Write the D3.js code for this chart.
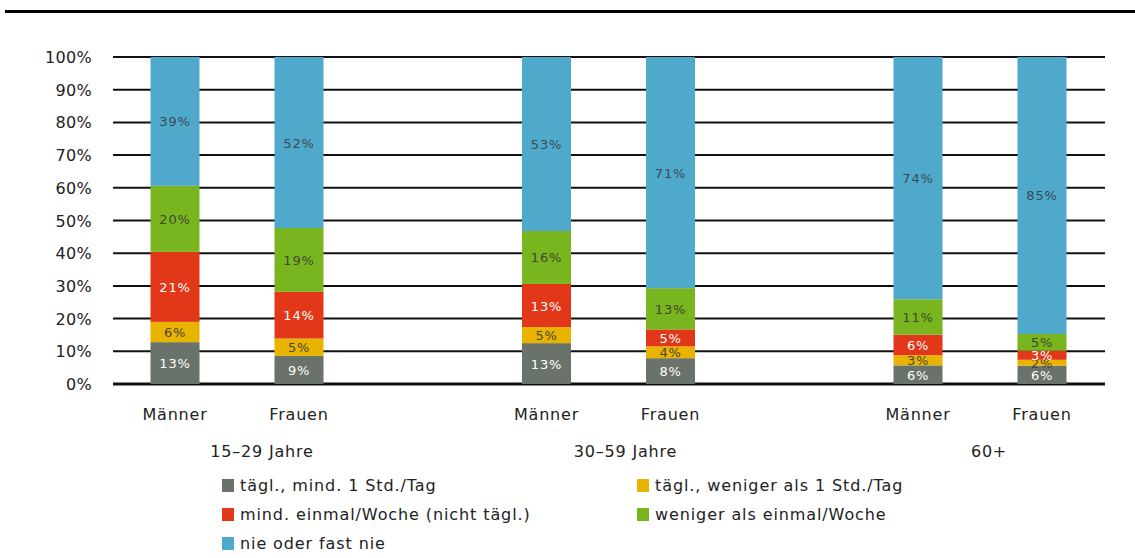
<!doctype html>
<html>
  <head>
    <script src="https://cdn.jsdelivr.net/npm/d3@7/dist/d3.min.js"></script>
    <style>
    body { margin: 0; background: #fff; }
    svg { display: block; font-family: "DejaVu Sans", sans-serif; }
    .grid line { stroke: #111; }
    .ylab { font-size: 16px; fill: #222; text-anchor: end; letter-spacing: 0.3px; }
    .cat { font-size: 16px; fill: #222; text-anchor: middle; letter-spacing: 0.8px; }
    .seglab { font-size: 13px; text-anchor: middle; letter-spacing: 0.8px; }
    .leg { font-size: 16px; fill: #222; letter-spacing: 0.9px; }
    </style>
  </head>
  <body>
    <svg width="1135" height="558"></svg>
    <script>
      var groups = ["15–29 Jahre", "30–59 Jahre", "60+"];
      var sexes = ["Männer", "Frauen"];
      var seriesNames = [
        "tägl., mind. 1 Std./Tag",
        "tägl., weniger als 1 Std./Tag",
        "mind. einmal/Woche (nicht tägl.)",
        "weniger als einmal/Woche",
        "nie oder fast nie"
      ];
      var seriesColors = ["#6a7369", "#e9b400", "#e23719", "#78b51f", "#4fa9cb"];
      var labelColors = ["#ffffff", "#4a4533", "#ffffff", "#3f4a2a", "#3d4a55"];

      // values per bar (order: groups × sexes), stack heights
      var daily1h   = [12.8, 8.6, 12.5, 7.9, 5.7, 5.6];
      var dailyLess = [6.2, 5.3, 4.9, 3.6, 3.1, 1.8];
      var weekly    = [21.4, 14.3, 13.2, 5.2, 6.3, 2.8];
      var lessWeek  = [20.2, 19.5, 16.2, 12.6, 10.8, 5.1];
      var never     = [39.4, 52.3, 53.2, 70.7, 74.1, 84.7];
      // printed labels
      var labels = [
        ["13%", "9%", "13%", "8%", "6%", "6%"],
        ["6%", "5%", "5%", "4%", "3%", "2%"],
        ["21%", "14%", "13%", "5%", "6%", "3%"],
        ["20%", "19%", "16%", "13%", "11%", "5%"],
        ["39%", "52%", "53%", "71%", "74%", "85%"]
      ];
      var yTicks = [0, 10, 20, 30, 40, 50, 60, 70, 80, 90, 100];

      var svg = d3.select("svg");

      // top rule
      svg.append("rect").attr("x", 5).attr("y", 10).attr("width", 1130).attr("height", 3).attr("fill", "#000");

      var y = d3.scaleLinear().domain([0, 100]).range([384, 57]);
      var x0 = d3.scalePoint().domain(groups).range([237, 980]);
      var x1 = d3.scalePoint().domain(sexes).range([-62, 62]);
      // group captions sit a bit right of the group centre in the original
      var xCap = d3.scalePoint().domain(groups).range([262, 989]);
      var barW = 49;

      var grid = svg.append("g").attr("class", "grid");
      grid.selectAll("line").data(yTicks).enter().append("line")
        .attr("x1", 113).attr("x2", 1105)
        .attr("y1", d => y(d)).attr("y2", d => y(d))
        .style("stroke-width", d => d === 0 ? 3 : 2);
      svg.append("g").selectAll("text").data(yTicks).enter().append("text")
        .attr("class", "ylab")
        .attr("x", 92).attr("y", d => y(d) + 6)
        .text(d => d + "%");

      var series = [daily1h, dailyLess, weekly, lessWeek, never];
      var bars = [];
      groups.forEach((g, gi) => sexes.forEach((s, si) => {
        var i = gi * 2 + si, acc = 0;
        series.forEach((vals, k) => {
          bars.push({g: g, s: s, k: k, y0: acc, y1: acc + vals[i], label: labels[k][i]});
          acc += vals[i];
        });
      }));

      var seg = svg.append("g").selectAll("g").data(bars).enter().append("g")
        .attr("transform", d => `translate(${x0(d.g) + x1(d.s)},0)`);
      seg.append("rect")
        .attr("x", -barW / 2).attr("width", barW)
        .attr("y", d => y(d.y1)).attr("height", d => y(d.y0) - y(d.y1))
        .attr("fill", d => seriesColors[d.k]);
      seg.append("text")
        .attr("class", "seglab")
        .attr("y", d => (y(d.y0) + y(d.y1)) / 2 + 5)
        .attr("fill", d => labelColors[d.k])
        .text(d => d.label);

      // category labels
      groups.forEach(g => {
        sexes.forEach(s => {
          svg.append("text").attr("class", "cat")
            .attr("x", x0(g) + x1(s)).attr("y", 420).text(s);
        });
        svg.append("text").attr("class", "cat")
          .attr("x", xCap(g)).attr("y", 457).text(g);
      });

      // legend
      var legPos = [[222, 479], [637, 479], [222, 508], [637, 508], [222, 537]];
      var leg = svg.append("g").selectAll("g").data(seriesNames).enter().append("g")
        .attr("transform", (d, i) => `translate(${legPos[i][0]},${legPos[i][1]})`);
      leg.append("rect").attr("x", 0).attr("y", 0).attr("width", 12).attr("height", 13)
        .attr("fill", (d, i) => seriesColors[i]);
      leg.append("text").attr("class", "leg").attr("x", 18).attr("y", 12).text(d => d);
    </script>
  </body>
</html>
